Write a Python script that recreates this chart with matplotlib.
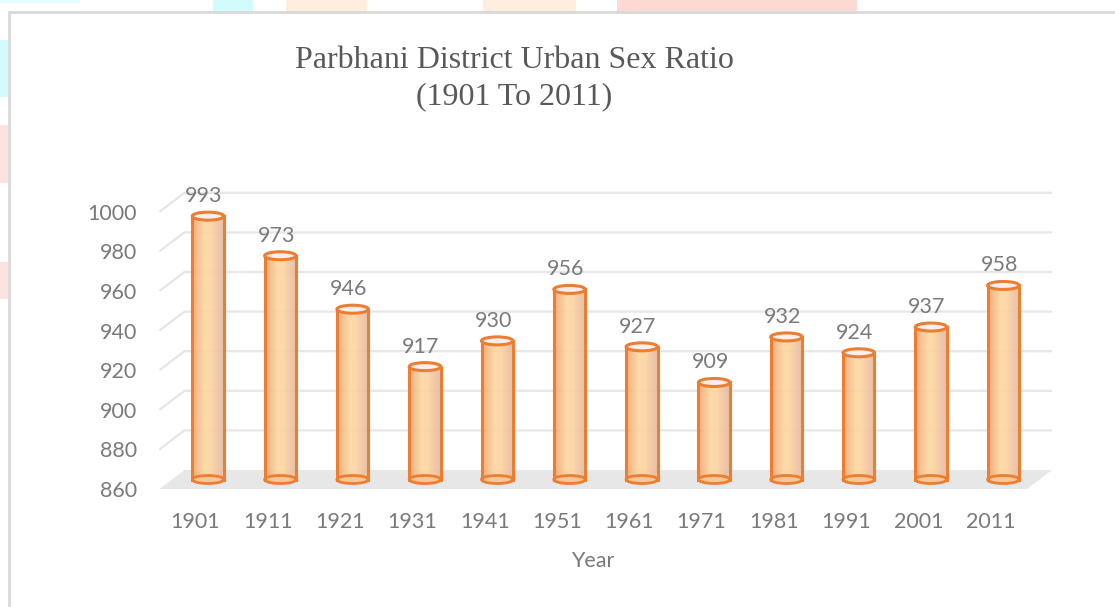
import matplotlib
matplotlib.use("Agg")
import matplotlib.pyplot as plt
import numpy as np
from matplotlib.patches import Polygon, Ellipse, Rectangle
from matplotlib.colors import LinearSegmentedColormap

# data
years = ["1901", "1911", "1921", "1931", "1941", "1951",
         "1961", "1971", "1981", "1991", "2001", "2011"]
sex_ratio = [993, 973, 946, 917, 930, 956, 927, 909, 932, 924, 937, 958]
y_ticks = [860, 880, 900, 920, 940, 960, 980, 1000]

title_lines = ["Parbhani District Urban Sex Ratio", "(1901 To 2011)"]
x_title = "Year"

# styling
W, H = 1115, 607
orange = "#ed7d31"
grey_text = "#7a7a7a"
grid_col = "#e6e6e6"
floor_col = "#e7e7e7"
bar_cmap = LinearSegmentedColormap.from_list(
    "cyl", ["#efa36b", "#f6bf8a", "#fdd6a1", "#fcd49f", "#f1c39f", "#e2bca6"])


def main():
    fig = plt.figure(figsize=(W / 100, H / 100), dpi=100)
    fig.patch.set_facecolor("white")

    # faint page remnants behind the chart box
    bg = [(213, 0, 40, 12, "#d2fbfb"), (286, 0, 81, 12, "#fdeedd"),
          (500, 0, 76, 12, "#fdeedd"), (617, 0, 240, 12, "#fdd9d3"),
          (483, 0, 17, 12, "#fdeedd"), (0, 0, 80, 3, "#e4fdfd"),
          (0, 40, 8, 57, "#d2fbfb"), (0, 125, 8, 58, "#fde3e0"),
          (0, 262, 8, 37, "#fde3e0")]
    for x0, y0, w, h, c in bg:
        fig.patches.append(Rectangle((x0 / W, 1 - (y0 + h) / H), w / W, h / H,
                                     transform=fig.transFigure, color=c,
                                     lw=0, zorder=0))
    # chart border
    fig.patches.append(Rectangle((8.5 / W, -0.05), 1.2, 1 - 12 / H + 0.05,
                                 transform=fig.transFigure, fill=False,
                                 edgecolor="#d9d9d9", lw=2, zorder=1))

    left, right, top, bottom = 159.4, 1027.0, 211.8, 489.0
    ax = fig.add_axes([left / W, 1 - bottom / H, (right - left) / W, (bottom - top) / H])
    ax.set_facecolor("none")
    n = len(years)
    ax.set_xlim(-0.5, n - 0.5)
    ax.set_ylim(y_ticks[0], y_ticks[-1])

    # depth of the 3d box in data units
    px_x = (right - left) / n
    px_y = (bottom - top) / (y_ticks[-1] - y_ticks[0])
    ddx = 25 / px_x
    ddy = 19 / px_y

    x0, x1 = -0.5, n - 0.5
    base = y_ticks[0]
    ax.add_patch(Polygon([(x0, base), (x1, base), (x1 + ddx, base + ddy),
                          (x0 + ddx, base + ddy)], closed=True,
                         facecolor=floor_col, edgecolor="none", zorder=1,
                         clip_on=False))
    for v in y_ticks[1:]:
        ax.plot([x0, x0 + ddx, x1 + ddx], [v, v + ddy, v + ddy], color=grid_col,
                lw=1.6, zorder=1, clip_on=False, solid_capstyle="butt")

    bw = 31.5 / px_x
    eh = 8 / px_y
    grad = np.linspace(0, 1, 64).reshape(1, -1)
    for i, v in enumerate(sex_ratio):
        cx = i + ddx / 2
        yb = base + ddy / 2
        yt = v + ddy / 2
        ax.imshow(grad, cmap=bar_cmap, extent=(cx - bw / 2, cx + bw / 2, yb, yt),
                  aspect="auto", zorder=2, alpha=0.9, clip_on=False)
        ax.add_patch(Ellipse((cx, yb), bw, eh, facecolor="#f9c795",
                             edgecolor=orange, lw=2, zorder=3, clip_on=False))
        ax.plot([cx - bw / 2, cx - bw / 2], [yb, yt], color=orange, lw=2.2,
                zorder=4, clip_on=False)
        ax.plot([cx + bw / 2, cx + bw / 2], [yb, yt], color=orange, lw=2.2,
                zorder=4, clip_on=False)
        ax.add_patch(Ellipse((cx, yt), bw, eh, facecolor="#f8efec",
                             edgecolor=orange, lw=2.2, zorder=5, clip_on=False))
        ax.text(cx - 4 / px_x, yt + 20 / px_y, str(v), ha="center", va="center",
                fontsize=15.5, family="Lato", color=grey_text, zorder=6)

    ax.set_xticks(range(n))
    ax.set_xticklabels(years)
    ax.set_yticks(y_ticks)
    ax.set_yticklabels([str(t) for t in y_ticks])
    ax.tick_params(axis="both", length=0, labelsize=15.5, labelcolor=grey_text)
    ax.tick_params(axis="y", pad=16)
    ax.tick_params(axis="x", pad=16.5)
    for lab in ax.get_xticklabels() + ax.get_yticklabels():
        lab.set_family("Lato")
    for s in ax.spines.values():
        s.set_visible(False)
    ax.set_xlabel(x_title, fontsize=15.5, family="Lato", color=grey_text,
                  labelpad=14)

    fig.text(514 / W, 1 - 68 / H, title_lines[0], ha="center", va="baseline",
             fontsize=23, family="Liberation Serif", color="#595959")
    fig.text(514 / W, 1 - 104 / H, title_lines[1], ha="center", va="baseline",
             fontsize=23, family="Liberation Serif", color="#595959")

    fig.savefig("out.png", dpi=100)


if __name__ == "__main__":
    main()
